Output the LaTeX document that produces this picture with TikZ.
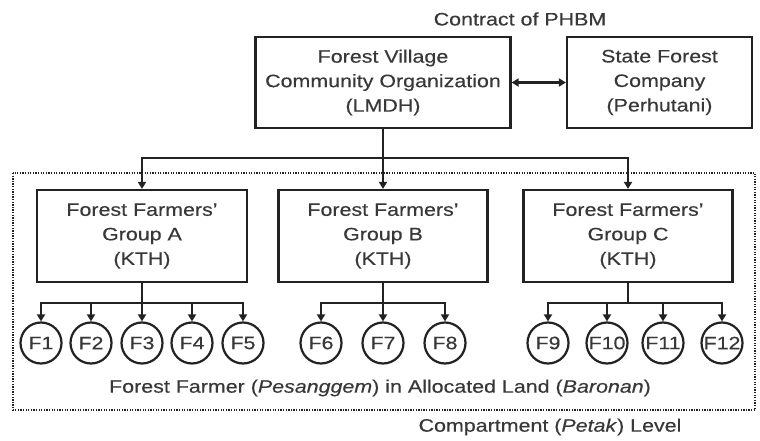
\documentclass[tikz,border=0pt]{standalone}
\usepackage{fontspec}
\setmainfont{Liberation Sans}[FakeStretch=1.19,FakeBold=0.3]
\usetikzlibrary{arrows.meta}
\definecolor{txt}{HTML}{383838}
\definecolor{ln}{HTML}{222222}
\tikzset{
  box/.style={draw=ln, line width=2.2pt, rectangle, inner sep=0pt, align=center, text=txt, font=\fontsize{18}{24.5}\selectfont},
  farmer/.style={draw=ln, line width=2.2pt, circle, minimum size=41pt, inner sep=0pt, text=txt, font=\fontsize{18}{20}\selectfont},
  lbl/.style={text=txt, inner sep=0pt, font=\fontsize{18}{22}\selectfont},
  conn/.style={draw=ln, line width=2.4pt, -{Triangle[length=7pt,width=8pt]}},
  dconn/.style={draw=ln, line width=2.4pt, {Triangle[length=7pt,width=8pt]}-{Triangle[length=7pt,width=8pt]}},
  plain/.style={draw=ln, line width=2.4pt},
  border/.style={draw=ln, line width=2.2pt, dash pattern=on 1.3pt off 1.3pt}
}
\begin{document}
\begin{tikzpicture}[x=1pt,y=-1pt]
\useasboundingbox (0,0) rectangle (760,441);
\fill[white] (0,0) rectangle (760,441);
\node[lbl] (contract) at (520,19) {Contract of PHBM};
\node[box, minimum width=255pt, minimum height=91pt] (lmdh) at (383,82.5) {Forest Village\\Community Organization\\(LMDH)};
\node[box, minimum width=185pt, minimum height=91pt] (sfc) at (659.5,82.5) {State Forest\\Company\\(Perhutani)};
\draw[dconn] (lmdh.east) -- (sfc.west);
\node[box, minimum width=210pt, minimum height=92pt] (ga) at (142,236) {Forest Farmers'\\Group A\\(KTH)};
\node[box, minimum width=209pt, minimum height=92pt] (gb) at (383,236) {Forest Farmers'\\Group B\\(KTH)};
\node[box, minimum width=209pt, minimum height=92pt] (gc) at (628,236) {Forest Farmers'\\Group C\\(KTH)};
\coordinate (hub) at (383,158);
\draw[plain] (lmdh.south) -- (hub);
\draw[conn] (hub) -| (ga.north);
\draw[conn] (hub) -- (gb.north);
\draw[conn] (hub) -| (gc.north);
% farmers
\foreach \n/\x in {1/41,2/91,3/142,4/192,5/243,6/321,7/383,8/445,9/548,10/607,11/663,12/722}
  \node[farmer] (f\n) at (\x,343) {F\n};
\coordinate (ha) at (142,303);
\coordinate (hb) at (383,303);
\coordinate (hc) at (628,303);
\draw[plain] (ga.south) -- (ha);
\draw[plain] (gb.south) -- (hb);
\draw[plain] (gc.south) -- (hc);
\foreach \n in {1,2,3,4,5} \draw[conn] (ha) -| (f\n.north);
\foreach \n in {6,7,8} \draw[conn] (hb) -| (f\n.north);
\foreach \n in {9,10,11,12} \draw[conn] (hc) -| (f\n.north);
\node[lbl] (ff) at (380,388) {Forest Farmer (\textit{Pesanggem}) in Allocated Land (\textit{Baronan})};
\draw[border] (13,173) rectangle (755,410);
\node[lbl] (comp) at (550,427) {Compartment (\textit{Petak}) Level};
\end{tikzpicture}
\end{document}
